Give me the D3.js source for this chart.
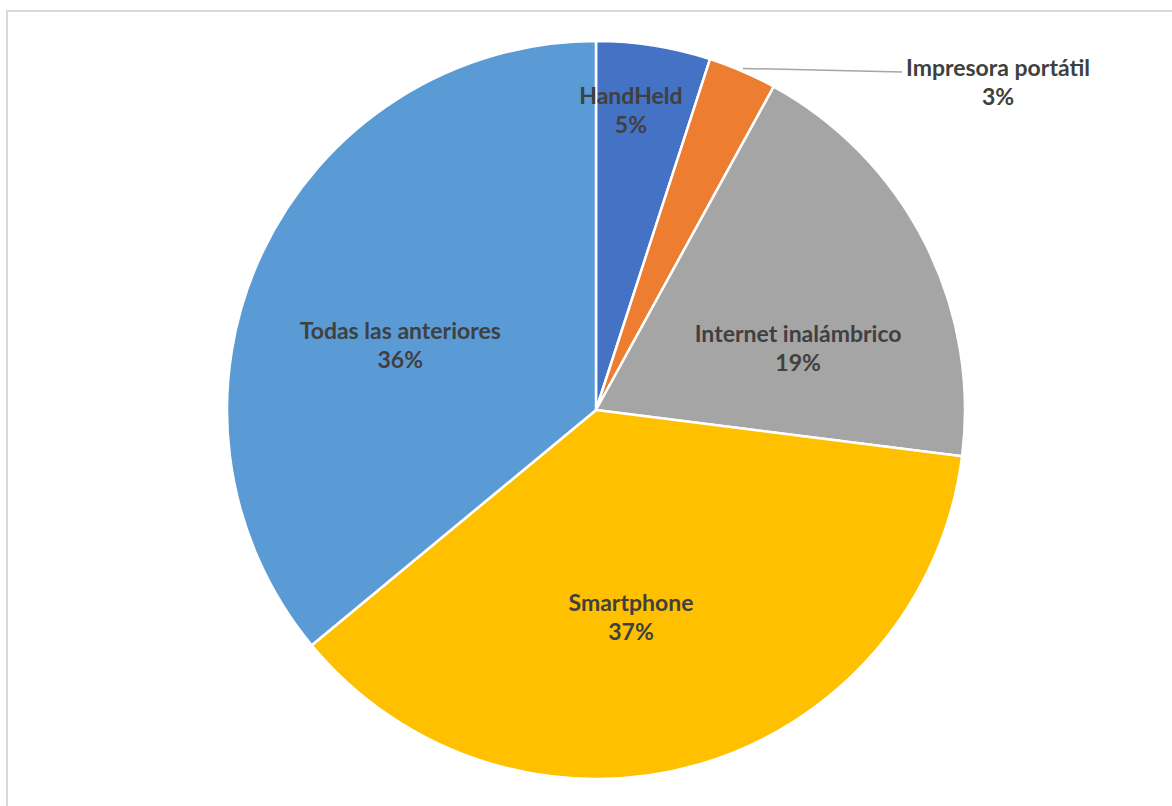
<!DOCTYPE html>
<html>
<head>
<meta charset="utf-8">
<script src="https://cdn.jsdelivr.net/npm/d3@7"></script>
<style>
  html, body { margin: 0; padding: 0; background: #ffffff; }
  svg { display: block; }
  .lbl { font-family: Lato, "Open Sans", sans-serif; font-weight: 700; font-size: 23px; fill: #404040; }
</style>
</head>
<body>
<svg id="chart" width="1172" height="806"></svg>
<script>
// Dispositivos utilizados (porcentaje de respuestas)
const categories = ["HandHeld", "Impresora portátil", "Internet inalámbrico", "Smartphone", "Todas las anteriores"];
const values = [5, 3, 19, 37, 36];
const colors = ["#4472C4", "#ED7D31", "#A5A5A5", "#FFC000", "#5B9BD5"];

// Where each label sits: fraction across its slice's angle and fraction of radius
const labelAngleFrac = [0.37, 0.5, 0.65, 0.55, 0.445];
const labelRadiusFrac = [0.816, null, 0.572, 0.572, 0.558];

const width = 1172, height = 806;
const cx = 596, cy = 410, R = 369;
const lineGap = 29;

const svg = d3.select("#chart");

// chart area frame
svg.append("rect")
  .attr("x", 7).attr("y", 11)
  .attr("width", width + 20).attr("height", height + 20)
  .attr("fill", "#ffffff")
  .attr("stroke", "#d9d9d9").attr("stroke-width", 2);

const pie = d3.pie().sort(null).value(d => d);
const arcs = pie(values);
const arc = d3.arc().innerRadius(0).outerRadius(R);

const g = svg.append("g").attr("transform", `translate(${cx},${cy})`);

g.selectAll("path.slice")
  .data(arcs)
  .join("path")
  .attr("class", "slice")
  .attr("d", arc)
  .attr("fill", (d, i) => colors[i])
  .attr("stroke", "#ffffff")
  .attr("stroke-width", 2.5)
  .attr("stroke-linejoin", "round");

const total = d3.sum(values);
const pct = v => Math.round(v / total * 100) + "%";

function polar(angle, r) {
  return [r * Math.sin(angle), -r * Math.cos(angle)];
}

arcs.forEach((d, i) => {
  const a = d.startAngle + (d.endAngle - d.startAngle) * labelAngleFrac[i];
  if (labelRadiusFrac[i] !== null) {
    const [x, y] = polar(a, R * labelRadiusFrac[i]);
    const t = g.append("text").attr("class", "lbl").attr("text-anchor", "middle");
    t.append("tspan").attr("x", x).attr("y", y - 7).text(categories[i]);
    t.append("tspan").attr("x", x).attr("y", y - 7 + lineGap).text(pct(values[i]));
  } else {
    // outside label with leader line
    const [x0, y0] = polar(a, R + 1);
    const x1 = 306, y1 = -338;
    g.append("path")
      .attr("d", `M${x0},${y0 - 2}L${x1},${y1}`)
      .attr("fill", "none")
      .attr("stroke", "#a6a6a6")
      .attr("stroke-width", 1.5);
    const lx = x1 + 96;
    const t = g.append("text").attr("class", "lbl").attr("text-anchor", "middle");
    t.append("tspan").attr("x", lx).attr("y", y1 + 4).text(categories[i]);
    t.append("tspan").attr("x", lx).attr("y", y1 + 4 + lineGap).text(pct(values[i]));
  }
});
</script>
</body>
</html>
